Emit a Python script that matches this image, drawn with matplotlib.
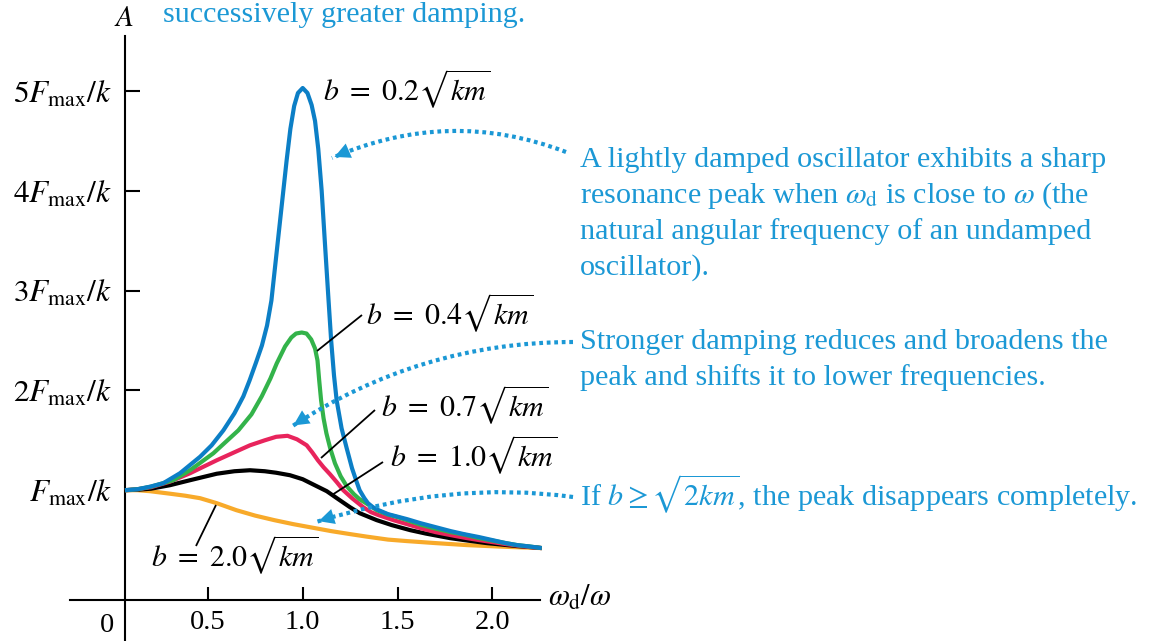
import matplotlib
matplotlib.use('Agg')
from matplotlib import pyplot as plt
from matplotlib.path import Path
from matplotlib.patches import PathPatch, FancyArrowPatch
from matplotlib.transforms import Affine2D

plt.rcParams['font.family'] = ['Liberation Serif', 'DejaVu Serif']
plt.rcParams['mathtext.fontset'] = 'stix'

# --- values (x = omega_d/omega, y = A in units of Fmax/k) ---
x_b02 = [0.063, 0.13, 0.195, 0.265, 0.353, 0.459, 0.52, 0.582, 0.64, 0.687, 0.72, 0.754,
         0.785, 0.812, 0.835, 0.855, 0.875, 0.895, 0.915, 0.935, 0.955, 0.975, 1.0,
         1.025, 1.047, 1.065, 1.082, 1.10, 1.118, 1.135, 1.15, 1.165, 1.179, 1.205,
         1.232, 1.26, 1.285, 1.30, 1.325, 1.344, 1.37, 1.40, 1.45, 1.5, 1.55, 1.62,
         1.7, 1.78, 1.85, 1.93, 2.0, 2.07, 2.13, 2.2, 2.26]
a_b02 = [1.0, 1.01, 1.035, 1.07, 1.17, 1.335, 1.45, 1.6, 1.77, 1.94, 2.1, 2.28,
         2.45, 2.65, 2.9, 3.25, 3.6, 3.95, 4.3, 4.62, 4.85, 4.98, 5.03,
         4.98, 4.86, 4.7, 4.42, 4.0, 3.45, 2.94, 2.5, 2.15, 1.9, 1.62,
         1.42, 1.22, 1.08, 1.0, 0.92, 0.87, 0.83, 0.8, 0.76, 0.735, 0.71, 0.67,
         0.63, 0.59, 0.56, 0.53, 0.5, 0.47, 0.45, 0.435, 0.42]

x_b04 = [0.063, 0.13, 0.2, 0.318, 0.406, 0.529, 0.661, 0.73, 0.784, 0.83, 0.863, 0.907,
         0.94, 0.965, 0.995, 1.02, 1.045, 1.065, 1.078, 1.087, 1.097, 1.11, 1.125,
         1.145, 1.17, 1.2, 1.232, 1.27, 1.30, 1.35, 1.39, 1.45, 1.5, 1.55, 1.62, 1.7,
         1.78, 1.85, 1.93, 2.0, 2.07, 2.13, 2.2, 2.26]
a_b04 = [1.0, 1.01, 1.035, 1.1, 1.2, 1.37, 1.6, 1.76, 1.94, 2.12, 2.27, 2.44,
         2.53, 2.57, 2.58, 2.57, 2.51, 2.42, 2.3, 2.1, 1.9, 1.72, 1.57,
         1.42, 1.27, 1.14, 1.04, 0.96, 0.91, 0.85, 0.8, 0.755, 0.73, 0.7, 0.655, 0.615,
         0.58, 0.555, 0.52, 0.495, 0.47, 0.45, 0.435, 0.42]

x_b07 = [0.063, 0.13, 0.2, 0.3, 0.406, 0.547, 0.64, 0.722, 0.8, 0.86, 0.92, 0.97,
         1.021, 1.05, 1.08, 1.11, 1.144, 1.18, 1.214, 1.26, 1.319, 1.36, 1.40, 1.478,
         1.55, 1.62, 1.7, 1.78, 1.85, 1.93, 2.0, 2.07, 2.13, 2.2, 2.26]
a_b07 = [1.0, 1.01, 1.03, 1.085, 1.17, 1.3, 1.38, 1.45, 1.5, 1.535, 1.545, 1.51,
         1.45, 1.38, 1.3, 1.23, 1.16, 1.08, 1.0, 0.92, 0.83, 0.78, 0.75, 0.7,
         0.66, 0.62, 0.58, 0.55, 0.525, 0.5, 0.48, 0.46, 0.445, 0.43, 0.42]

x_b10 = [0.063, 0.13, 0.2, 0.3, 0.406, 0.547, 0.64, 0.722, 0.8, 0.86, 0.933, 1.0,
         1.074, 1.127, 1.18, 1.249, 1.3, 1.39, 1.47, 1.566, 1.65, 1.776, 1.87, 1.97,
         2.05, 2.13, 2.2, 2.26]
a_b10 = [1.0, 1.005, 1.015, 1.05, 1.1, 1.165, 1.19, 1.2, 1.19, 1.175, 1.15, 1.11,
         1.04, 0.99, 0.92, 0.83, 0.77, 0.7, 0.65, 0.6, 0.565, 0.52, 0.495, 0.47,
         0.455, 0.44, 0.43, 0.42]

x_b20 = [0.063, 0.13, 0.195, 0.3, 0.38, 0.459, 0.547, 0.65, 0.75, 0.85, 0.95, 1.05,
         1.15, 1.25, 1.337, 1.45, 1.55, 1.7, 1.865, 2.04, 2.15, 2.26]
a_b20 = [1.0, 1.0, 0.99, 0.965, 0.945, 0.92, 0.87, 0.8, 0.745, 0.7, 0.66, 0.625,
         0.59, 0.56, 0.535, 0.505, 0.49, 0.47, 0.45, 0.435, 0.427, 0.42]

xtick_vals = [0.5, 1.0, 1.5, 2.0]
xtick_labels = ['0.5', '1.0', '1.5', '2.0']
ytick_vals = [1, 2, 3, 4, 5]
ytick_labels = [r'$F_{\max}/k$', r'$2F_{\max}/k$', r'$3F_{\max}/k$',
                r'$4F_{\max}/k$', r'$5F_{\max}/k$']

W, H = 1157, 641
X0, SX = 113.0, 189.7    # pixel of x=0, pixels per unit
Y0, SY = 590.0, 99.8     # pixel of A=0, pixels per Fmax/k

BLUE = '#0c7fc6'
GREEN = '#33b34a'
RED = '#e8245c'
ORANGE = '#f8aa2a'
NOTE = '#1b98d5'

fig = plt.figure(figsize=(W / 100, H / 100), dpi=100)
ax = fig.add_axes([0, 0, 1, 1])
ax.set_xlim(-X0 / SX, (W - X0) / SX)
ax.set_ylim((Y0 - H) / SY, Y0 / SY)

# screen-pixel transform (origin top-left) for the annotations
tpx = Affine2D().scale(1.0 / W, -1.0 / H).translate(0, 1) + fig.transFigure

curves = [(x_b20, a_b20, ORANGE), (x_b10, a_b10, 'black'), (x_b07, a_b07, RED),
          (x_b04, a_b04, GREEN), (x_b02, a_b02, BLUE)]
for i, (xs, ys, c) in enumerate(curves):
    ax.plot(xs, ys, color=c, lw=3, zorder=3 + i,
            solid_joinstyle='round', solid_capstyle='butt')

for s in ['top', 'right']:
    ax.spines[s].set_visible(False)
ax.spines['left'].set_position(('data', (125 - X0) / SX))
ax.spines['left'].set_bounds((Y0 - H) / SY, (Y0 - 36) / SY)
ax.spines['bottom'].set_position(('data', (Y0 - 600) / SY))
ax.spines['bottom'].set_bounds((70 - X0) / SX, (540 - X0) / SX)
for s in ['left', 'bottom']:
    ax.spines[s].set_linewidth(1.5)

ax.set_xticks(xtick_vals, xtick_labels)
ax.set_yticks(ytick_vals, ytick_labels)
ax.tick_params(axis='x', direction='in', length=9.4, width=1.5, pad=7, labelsize=20.5)
ax.tick_params(axis='y', direction='in', length=10.8, width=1.5, pad=9.5, labelsize=22.5)

ax.text(107, 632, '0', transform=tpx, fontsize=20.5, ha='center', va='baseline')
ax.text(124, 26, r'$A$', transform=tpx, fontsize=21, ha='center', va='baseline')
ax.text(548, 606, r'$\omega_{\mathrm{d}}/\omega$', transform=tpx, fontsize=22,
        ha='left', va='baseline')

# curve labels with leader lines
labels = [
    (r'$b\ =\ 0.2\sqrt{km}$', 323, 101, None),
    (r'$b\ =\ 0.4\sqrt{km}$', 366, 325, ((317, 351), (362, 315))),
    (r'$b\ =\ 0.7\sqrt{km}$', 381, 417, ((321, 458), (375, 410))),
    (r'$b\ =\ 1.0\sqrt{km}$', 390, 467, ((332, 495), (383, 462))),
    (r'$b\ =\ 2.0\sqrt{km}$', 151, 567, ((216, 505), (196, 546))),
]
for txt, lx, ly, lead in labels:
    ax.text(lx, ly, txt, transform=tpx, fontsize=21.5, ha='left', va='baseline')
    if lead:
        (x1, y1), (x2, y2) = lead
        ax.plot([x1, x2], [y1, y2], color='black', lw=1.3, transform=tpx,
                solid_capstyle='butt', zorder=8)

# blue explanatory text
ax.text(163, 22, 'successively greater damping.', transform=tpx, fontsize=21.7,
        color=NOTE, va='baseline')
notes = [
    ('A lightly damped oscillator exhibits a sharp', 167),
    (r'resonance peak when $\omega_{\mathrm{d}}$ is close to $\omega$ (the', 203),
    ('natural angular frequency of an undamped', 239),
    ('oscillator).', 275),
    ('Stronger damping reduces and broadens the', 349),
    ('peak and shifts it to lower frequencies.', 385),
    (r'If $b \geq \sqrt{2km}$, the peak disappears completely.', 506),
]
for txt, by in notes:
    ax.text(580, by, txt, transform=tpx, fontsize=21.7, color=NOTE, va='baseline')

# dotted curved arrows: start, control, end (screen px)
arrows = [
    ((566, 152), (449, 107), (332, 158)),
    ((573, 342), (420, 342), (291, 427)),
    ((573, 497), (450, 480), (316, 522)),
]
for p0, pc, p1 in arrows:
    path = Path([p0, pc, p1], [Path.MOVETO, Path.CURVE3, Path.CURVE3])
    ax.add_patch(PathPatch(path, fill=False, edgecolor=NOTE, lw=3,
                           linestyle=(0, (0.9, 0.9)), transform=tpx, zorder=9))
    # solid head along the end tangent
    dx, dy = p1[0] - pc[0], p1[1] - pc[1]
    n = (dx * dx + dy * dy) ** 0.5
    tail = (p1[0] - 12 * dx / n, p1[1] - 12 * dy / n)
    ax.add_patch(FancyArrowPatch(tail, p1, transform=tpx, color=NOTE, lw=0,
                                 arrowstyle='-|>,head_length=0.7,head_width=0.35',
                                 mutation_scale=16, zorder=10))

fig.savefig('out.png', dpi=100)
